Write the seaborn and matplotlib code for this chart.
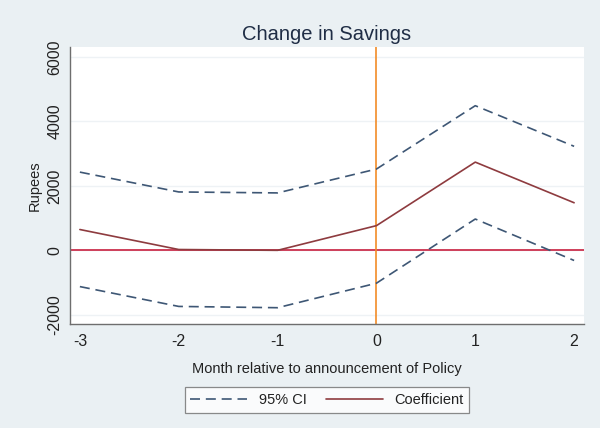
import matplotlib
matplotlib.use("Agg")
import matplotlib.pyplot as plt
import seaborn as sns
import pandas as pd

# Event-study estimates of the change in savings around the policy announcement
months = [-3, -2, -1, 0, 1, 2]
coefficient = [650, 30, 5, 770, 2740, 1480]
ci_upper = [2430, 1815, 1785, 2525, 4490, 3230]
ci_lower = [-1120, -1735, -1775, -1015, 975, -310]
y_ticks = [-2000, 0, 2000, 4000, 6000]

df = pd.DataFrame({"month": months, "coef": coefficient,
                   "upper": ci_upper, "lower": ci_lower})

sns.set_style("white")
plt.rcParams["font.family"] = ["Liberation Sans", "DejaVu Sans"]

bg = "#eaf0f3"
ci_color = "#3e5775"
coef_color = "#8e3b3f"
text_color = "#1f2d45"
dash = (0, (6, 3.5))

fig = plt.figure(figsize=(6.0, 4.28), dpi=100, facecolor=bg)
ax = fig.add_axes([70 / 600, 1 - 324 / 428, 514 / 600, 277 / 428])
ax.set_facecolor("white")

for yv in y_ticks:
    ax.axhline(yv, color="#eef2f5", lw=1.0, zorder=0)

sns.lineplot(data=df, x="month", y="upper", ax=ax, color=ci_color, lw=1.2,
             linestyle=dash, label="95% CI")
sns.lineplot(data=df, x="month", y="coef", ax=ax, color=coef_color, lw=1.2,
             label="Coefficient")
sns.lineplot(data=df, x="month", y="lower", ax=ax, color=ci_color, lw=1.2,
             linestyle=dash, legend=False)

ax.axhline(0, color="#c8203f", lw=1.2, zorder=1)
ax.axvline(0, color="#f28c28", lw=1.2, zorder=1)

ax.set_xlim(-3.1, 2.1)
ax.set_ylim(-2280, 6310)
ax.set_xticks(months)
ax.set_yticks(y_ticks)
ax.set_xticklabels([str(m) for m in months])
ax.set_yticklabels([str(v) for v in y_ticks], rotation=90, va="center")

for side in ("top", "right"):
    ax.spines[side].set_visible(False)
for side in ("left", "bottom"):
    ax.spines[side].set_color("#6e6e6e")
    ax.spines[side].set_linewidth(1.0)
ax.tick_params(axis="both", direction="out", length=4.5, width=1.0,
               color="#6e6e6e", labelsize=11.5, labelcolor="#222222", pad=3)
ax.tick_params(axis="y", pad=1)

ax.set_xlabel("Month relative to announcement of Policy", fontsize=10.5,
              color="#222222", labelpad=9)
ax.set_ylabel("Rupees", fontsize=10.5, color="#222222", labelpad=4)
ax.set_title("Change in Savings", fontsize=14.5, color=text_color, pad=5)

leg = ax.legend(loc="upper center", bbox_to_anchor=(0.5, -0.228), ncol=2,
                frameon=True, fancybox=False, fontsize=10.5,
                handlelength=3.9, columnspacing=1.3, borderpad=0.4,
                handletextpad=0.8, borderaxespad=0)
leg.get_frame().set_edgecolor("#6e6e6e")
leg.get_frame().set_linewidth(0.9)
for t in leg.get_texts():
    t.set_color("#222222")

fig.savefig("out.png", dpi=100, facecolor=bg)
